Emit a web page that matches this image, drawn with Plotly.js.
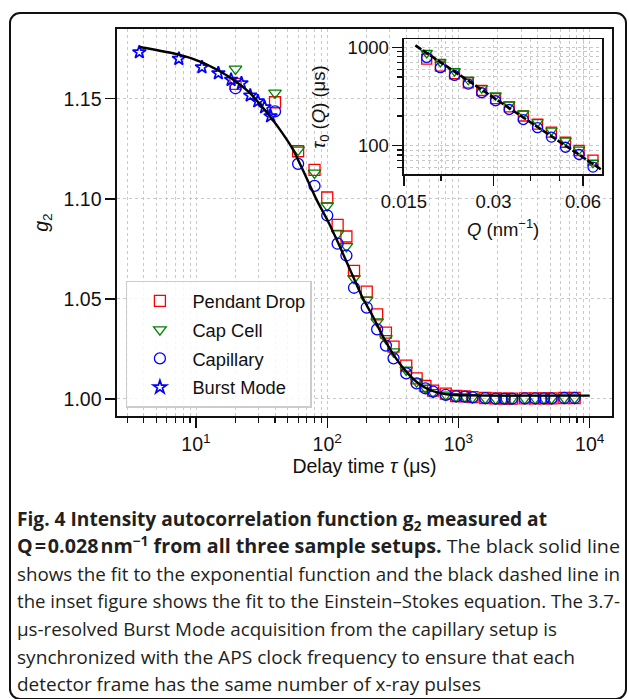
<!DOCTYPE html>
<html>
<head>
<meta charset="utf-8">
<script src="https://cdn.plot.ly/plotly-3.0.1.min.js"></script>
<style>
  html, body { margin:0; padding:0; background:#fff; }
  #wrap { position:relative; width:629px; height:699px; overflow:hidden; background:#fff; }
  #frame { position:absolute; left:9px; top:12px; width:614px; height:683.5px; border:2.5px solid #111; border-radius:11px; box-sizing:content-box; }
  #chart { position:absolute; left:0; top:0; width:629px; height:699px; }
  .cap { position:absolute; left:17px; white-space:nowrap; font-family:'Open Sans', 'Noto Sans', sans-serif; font-size:19px; line-height:28px; height:28px; color:#231f20; transform-origin:0 50%; }
  .cap b { font-weight:700; }
</style>
</head>
<body>
<div id="wrap">
  <div id="frame"></div>
  <div id="chart"></div>
  <div class="cap" data-w="530" style="top:505px"><b>Fig. 4 Intensity autocorrelation function g<sub style="font-size:70%;line-height:0">2</sub> measured at</b></div>
  <div class="cap" data-w="603" style="top:532px"><b>Q&#8202;=&#8202;0.028&#8202;nm<sup style="font-size:70%;line-height:0">−1</sup> from all three sample setups.</b> The black solid line</div>
  <div class="cap" data-w="603" style="top:559.5px">shows the fit to the exponential function and the black dashed line in</div>
  <div class="cap" data-w="603" style="top:587px">the inset figure shows the fit to the Einstein–Stokes equation. The 3.7-</div>
  <div class="cap" data-w="540" style="top:615px">μs-resolved Burst Mode acquisition from the capillary setup is</div>
  <div class="cap" data-w="558" style="top:643px">synchronized with the APS clock frequency to ensure that each</div>
  <div class="cap" data-w="464" style="top:670px">detector frame has the same number of x-ray pulses</div>
</div>
<script>
// ---------- main panel data ----------
const tauBurst = [3.7, 7.4, 11.1, 14.8, 18.5, 22.2, 25.9, 29.6, 33.3, 37.0];
const g2Burst  = [1.1733, 1.1700, 1.1658, 1.1628, 1.1595, 1.1578, 1.1517, 1.1488, 1.1458, 1.1413];

const tau = [20, 40, 60, 80, 100, 120, 140, 160, 200, 240, 280, 320, 400, 480, 560, 640,
             800, 960, 1120, 1280, 1600, 1920, 2240, 2560, 3200, 3840, 4480, 5120, 6400, 7680];
const g2Pendant = [1.1575, 1.1483, 1.1238, 1.1145, 1.1007, 1.0870, 1.0812, 1.0640, 1.0537, 1.0423,
                   1.0332, 1.0262, 1.0167, 1.0103, 1.0065, 1.0042, 1.0027, 1.0015, 1.0013, 1.0009,
                   1.0005, 1.0003, 1.0002, 1.0002, 1.0003, 1.0003, 1.0003, 1.0003, 1.0005, 1.0005];
const g2CapCell = [1.1650, 1.1530, 1.1245, 1.1130, 1.0966, 1.0826, 1.0763, 1.0603, 1.0495, 1.0387,
                   1.0303, 1.0237, 1.0145, 1.0087, 1.0055, 1.0033, 1.0021, 1.0013, 1.0012, 1.0008,
                   1.0004, 1.0002, 1.0002, 1.0002, 1.0003, 1.0003, 1.0003, 1.0003, 1.0005, 1.0005];
const g2Capillary = [1.1553, 1.1437, 1.1175, 1.1065, 1.0917, 1.0776, 1.0717, 1.0556, 1.0457, 1.0348,
                     1.0267, 1.0203, 1.0128, 1.0078, 1.0053, 1.0037, 1.0021, 1.0013, 1.0012, 1.0008,
                     1.0004, 1.0002, 1.0002, 1.0002, 1.0003, 1.0003, 1.0003, 1.0003, 1.0005, 1.0005];

const fitTau = [3.7, 7.3, 11, 14.7, 18.8, 25.8, 36.8, 46.5, 55, 67.6, 83, 101.6, 124.7, 153, 184,
                223, 266, 327, 400, 492, 604, 809, 1200, 2000, 4000, 10000];
const fitG2  = [1.1759, 1.1722, 1.1684, 1.1643, 1.1600, 1.1528, 1.1410, 1.1320, 1.1245, 1.1122,
                1.0995, 1.0887, 1.0762, 1.0630, 1.0512, 1.0412, 1.0312, 1.0212, 1.0137, 1.0080,
                1.0045, 1.0024, 1.0018, 1.0017, 1.0017, 1.0017];

const xTickVals = [10, 100, 1000, 10000];
const xTickText = ['10<sup>1</sup>', '10<sup>2</sup>', '10<sup>3</sup>', '10<sup>4</sup>'];
const yTickVals = [1.00, 1.05, 1.10, 1.15];
const yTickText = ['1.00', '1.05', '1.10', '1.15'];

// ---------- inset data ----------
const qInset = [0.0179, 0.0199, 0.0222, 0.0247, 0.0274, 0.0305, 0.0339, 0.0378, 0.0422, 0.0470, 0.0524, 0.0582, 0.0648];
const tau0Pendant   = [760, 646, 539, 436, 364, 300, 248, 200, 165, 137, 108, 89, 71];
const tau0CapCell   = [877, 710, 574, 468, 385, 324, 262, 212, 173, 142, 112, 91, 66.7];
const tau0Capillary = [790, 621, 518, 423, 345, 286, 233, 184, 152, 122, 96, 81, 60.3];
const qFit    = [0.0164, 0.0691];
const tau0Fit = [1048, 56.9];

const qTickVals = [0.015, 0.03, 0.06];
const qTickText = ['0.015', '0.03', '0.06'];
const qMinorVals = [0.02, 0.04, 0.05];
const tTickVals = [100, 1000];
const tTickText = ['100', '1000'];

// minor tick positions for log axes
function minorDecades(lo, hi) {
  const out = [];
  for (let p = lo; p <= hi; p++) for (let m = 2; m <= 9; m++) out.push(m * Math.pow(10, p));
  return out;
}

const RED = '#ff0000', GREEN = '#008000', BLUE = '#0000ff';
const FONT = 'Liberation Sans, Arial, Helvetica, sans-serif';
const GRID = '#c9c9c9';

const traces = [
  { x: tau, y: g2Pendant, type: 'scatter', mode: 'markers', name: 'Pendant Drop', legendgroup: 'a',
    marker: { symbol: 'square-open', size: 11, color: RED, line: { width: 1.3, color: RED } } },
  { x: tau, y: g2CapCell, type: 'scatter', mode: 'markers', name: 'Cap Cell', legendgroup: 'b',
    marker: { symbol: 'triangle-down-open', size: 11, color: GREEN, line: { width: 1.3, color: GREEN } } },
  { x: tau, y: g2Capillary, type: 'scatter', mode: 'markers', name: 'Capillary', legendgroup: 'c',
    marker: { symbol: 'circle-open', size: 11, color: BLUE, line: { width: 1.3, color: BLUE } } },
  { x: tauBurst, y: g2Burst, type: 'scatter', mode: 'markers', name: 'Burst Mode', legendgroup: 'd',
    marker: { symbol: 'star-open', size: 10, color: BLUE, line: { width: 1.7, color: BLUE } } },
  { x: fitTau, y: fitG2, type: 'scatter', mode: 'lines', showlegend: false,
    line: { color: '#000', width: 2.4, shape: 'spline', smoothing: 0.6 } },

  { x: qInset, y: tau0Pendant, xaxis: 'x2', yaxis: 'y2', type: 'scatter', mode: 'markers', showlegend: false,
    marker: { symbol: 'square-open', size: 10, color: RED, line: { width: 1.3, color: RED } } },
  { x: qInset, y: tau0CapCell, xaxis: 'x2', yaxis: 'y2', type: 'scatter', mode: 'markers', showlegend: false,
    marker: { symbol: 'triangle-down-open', size: 10, color: GREEN, line: { width: 1.3, color: GREEN } } },
  { x: qInset, y: tau0Capillary, xaxis: 'x2', yaxis: 'y2', type: 'scatter', mode: 'markers', showlegend: false,
    marker: { symbol: 'circle-open', size: 10, color: BLUE, line: { width: 1.3, color: BLUE } } },
  { x: qFit, y: tau0Fit, xaxis: 'x2', yaxis: 'y2', type: 'scatter', mode: 'lines', showlegend: false,
    line: { color: '#000', width: 2.6, dash: '7px,2px' } }
];

const layout = {
  width: 629, height: 699,
  margin: { l: 117, r: 16.5, t: 29.3, b: 283, pad: 0 },
  paper_bgcolor: 'rgba(0,0,0,0)', plot_bgcolor: 'rgba(0,0,0,0)',
  font: { family: FONT, size: 19.5, color: '#111' },
  showlegend: true,
  legend: {
    x: 0.018, xanchor: 'left', y: 0.349, yanchor: 'top',
    bgcolor: 'rgba(255,255,255,0.85)', bordercolor: '#cccccc', borderwidth: 1.5,
    font: { family: FONT, size: 18.3, color: '#111' },
    itemwidth: 55, tracegroupgap: 2.0, traceorder: 'grouped',
    entrywidth: 190, entrywidthmode: 'pixels'
  },
  xaxis: {
    type: 'log', range: [Math.log10(2.5), Math.log10(14790)],
    tickmode: 'array', tickvals: xTickVals, ticktext: xTickText,
    ticks: 'outside', ticklen: 10, tickwidth: 1.3, tickcolor: '#111',
    tickfont: { family: FONT, size: 19.5 },
    showline: true, linecolor: '#111', linewidth: 1.6, mirror: true,
    showgrid: true, gridcolor: GRID, griddash: 'dot', gridwidth: 1,
    zeroline: false,
    minor: { tickmode: 'array', tickvals: minorDecades(0, 4), ticks: 'outside', ticklen: 5, tickwidth: 1.1,
             tickcolor: '#111', showgrid: true, gridcolor: GRID, griddash: 'dot', gridwidth: 1 },
    title: { text: 'Delay time <i>τ</i> (μs)', font: { family: FONT, size: 19.5 }, standoff: 1 },
    automargin: false
  },
  yaxis: {
    range: [0.9915, 1.1849],
    tickmode: 'array', tickvals: yTickVals, ticktext: yTickText,
    ticks: 'outside', ticklen: 10, tickwidth: 1.3, tickcolor: '#111',
    tickfont: { family: FONT, size: 19.5 },
    showline: true, linecolor: '#111', linewidth: 1.6, mirror: true,
    showgrid: true, gridcolor: GRID, griddash: 'dot', gridwidth: 1,
    zeroline: false,
    title: { text: '<i>g</i><sub>2</sub>', font: { family: FONT, size: 19.5 }, standoff: 10 },
    automargin: false
  },
  xaxis2: {
    type: 'log', domain: [0.5795, 0.9806], anchor: 'y2',
    range: [Math.log10(0.015), Math.log10(0.0697)],
    tickmode: 'array', tickvals: qTickVals, ticktext: qTickText,
    ticks: 'outside', ticklen: 10, tickwidth: 1.3, tickcolor: '#111',
    tickfont: { family: FONT, size: 18.5 },
    showline: true, linecolor: '#111', linewidth: 1.4, mirror: true,
    showgrid: true, gridcolor: GRID, griddash: 'dot', gridwidth: 1,
    zeroline: false,
    minor: { tickmode: 'array', tickvals: qMinorVals, ticks: 'outside', ticklen: 5, tickwidth: 1.1,
             tickcolor: '#111', showgrid: true, gridcolor: GRID, griddash: 'dot', gridwidth: 1 },
    title: { text: '<i>Q</i> (nm<sup>−1</sup>)', font: { family: FONT, size: 18.5 }, standoff: 12 },
    automargin: false
  },
  yaxis2: {
    type: 'log', domain: [0.6250, 0.9741], anchor: 'x2',
    range: [Math.log10(51.1), Math.log10(1218)],
    tickmode: 'array', tickvals: tTickVals, ticktext: tTickText,
    ticks: 'outside', ticklen: 10, tickwidth: 1.3, tickcolor: '#111',
    tickfont: { family: FONT, size: 18.5 },
    showline: true, linecolor: '#111', linewidth: 1.4, mirror: true,
    showgrid: true, gridcolor: GRID, griddash: 'dot', gridwidth: 1,
    zeroline: false,
    minor: { tickmode: 'array', tickvals: minorDecades(1, 2).filter(v => v >= 50), ticks: 'outside', ticklen: 5, tickwidth: 1.1,
             tickcolor: '#111', showgrid: true, gridcolor: GRID, griddash: 'dot', gridwidth: 1 },
    automargin: false
  },
  annotations: [
    { text: '<i>τ</i><sub>0</sub> (<i>Q</i>) (μs)', xref: 'paper', yref: 'paper',
      x: 0.4099, y: 0.799, xanchor: 'center', yanchor: 'middle', textangle: -90,
      showarrow: false, font: { family: FONT, size: 18.5, color: '#111' } }
  ],
  shapes: [
    { type: 'rect', xref: 'x2 domain', yref: 'y2 domain', x0: 0, x1: 1, y0: 0, y1: 1,
      fillcolor: '#ffffff', line: { width: 0 }, layer: 'below' }
  ]
};

Plotly.newPlot('chart', traces, layout, { staticPlot: true, displayModeBar: false }).then(function () {
  document.querySelectorAll('.cap').forEach(function (el) {
    const target = parseFloat(el.getAttribute('data-w'));
    const w = el.getBoundingClientRect().width;
    if (w > 0) el.style.transform = 'scaleX(' + (target / w) + ')';
  });
});
</script>
</body>
</html>
